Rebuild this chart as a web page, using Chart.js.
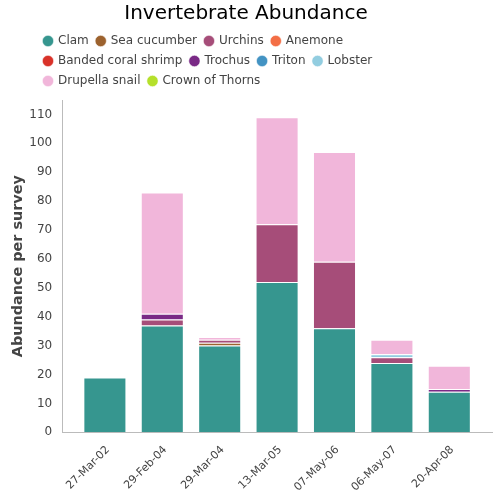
<!DOCTYPE html>
<html>
<head>
<meta charset="utf-8">
<script src="https://cdn.jsdelivr.net/npm/chart.js@4/dist/chart.umd.min.js"></script>
<style>
  html, body { margin: 0; padding: 0; background: #fff; }
  #wrap { width: 500px; height: 500px; }
</style>
</head>
<body>
<div id="wrap"><canvas id="chart"></canvas></div>
<script>
const surveys = ['27-Mar-02', '29-Feb-04', '29-Mar-04', '13-Mar-05', '07-May-06', '06-May-07', '20-Apr-08'];
const species = ['Clam', 'Sea cucumber', 'Urchins', 'Anemone', 'Banded coral shrimp', 'Trochus', 'Triton', 'Lobster', 'Drupella snail', 'Crown of Thorns'];
const colours = ['#36968f', '#9c622e', '#a64d79', '#f36e45', '#d93229', '#7a2a86', '#4393c3', '#92cde0', '#f1b6da', '#b5e02b'];

const clam        = [19, 37, 30, 52, 36, 24, 14];
const seaCucumber = [0, 0, 1, 0, 0, 0, 0];
const urchins     = [0, 2, 1, 20, 23, 2, 0];
const anemone     = [0, 0, 0, 0, 0, 0, 0];
const shrimp      = [0, 0, 0, 0, 0, 0, 0];
const trochus     = [0, 2, 0, 0, 0, 0, 1];
const triton      = [0, 0, 0, 0, 0, 0, 0];
const lobster     = [0, 0, 0, 0, 0, 1, 0];
const drupella    = [0, 42, 1, 37, 38, 5, 8];
const crownThorns = [0, 0, 0, 0, 0, 0, 0];

const seriesValues = [clam, seaCucumber, urchins, anemone, shrimp, trochus, triton, lobster, drupella, crownThorns];
const yTicks = [0, 10, 20, 30, 40, 50, 60, 70, 80, 90, 100, 110];

const font = 'DejaVu Sans';

// narrower, left-aligned legend box and an inset category axis, like the original
const layoutTweaks = {
    id: 'layoutTweaks',
    beforeInit(chart) {
        const legend = chart.legend;
        const update = legend.update;
        legend.update = function (w, h, m) {
            update.call(this, 444, h, m);
            this.height += 3;
        };
    },
    afterLayout(chart) {
        chart.legend.left = 36;
        chart.legend.right = 480;
        chart.legend.width = 444;

        const x = chart.scales.x;
        const inset = 14;
        x._startPixel = x.left + inset;
        x._endPixel = x.right - inset;
        x._length = x._endPixel - x._startPixel;
    }
};

new Chart(document.getElementById('chart'), {
    type: 'bar',
    data: {
        labels: surveys,
        datasets: species.map((name, i) => ({
            label: name,
            data: seriesValues[i],
            backgroundColor: colours[i],
            borderColor: 'rgba(255,255,255,0.55)',
            borderWidth: 1,
            categoryPercentage: 1,
            barPercentage: 0.75
        }))
    },
    options: {
        responsive: true,
        maintainAspectRatio: false,
        animation: false,
        layout: { padding: { right: 8, left: 0, bottom: 3 } },
        plugins: {
            title: {
                display: true,
                text: 'Invertebrate Abundance',
                color: '#000',
                font: { family: font, size: 20, weight: 'normal' },
                padding: { top: 2, bottom: 1 }
            },
            legend: {
                position: 'top',
                align: 'start',
                labels: {
                    usePointStyle: true,
                    pointStyle: 'circle',
                    boxWidth: 8,
                    boxHeight: 8,
                    padding: 8,
                    color: '#444',
                    font: { family: font, size: 12 }
                }
            },
            tooltip: { enabled: false }
        },
        scales: {
            x: {
                stacked: true,
                grid: { display: false },
                border: { color: '#bbb' },
                ticks: {
                    color: '#444',
                    maxRotation: 45,
                    minRotation: 45,
                    labelOffset: 3,
                    font: { family: font, size: 11 }
                }
            },
            y: {
                stacked: true,
                min: 0,
                max: 115,
                grid: { display: false },
                border: { color: '#bbb' },
                afterBuildTicks: axis => { axis.ticks = yTicks.map(v => ({ value: v })); },
                ticks: {
                    color: '#444',
                    padding: 2,
                    font: { family: font, size: 12 }
                },
                title: {
                    display: true,
                    text: 'Abundance per survey',
                    color: '#444',
                    padding: { top: 10, bottom: 0 },
                    font: { family: font, size: 14.4, weight: 'bold' }
                }
            }
        }
    },
    plugins: [layoutTweaks]
});
</script>
</body>
</html>
